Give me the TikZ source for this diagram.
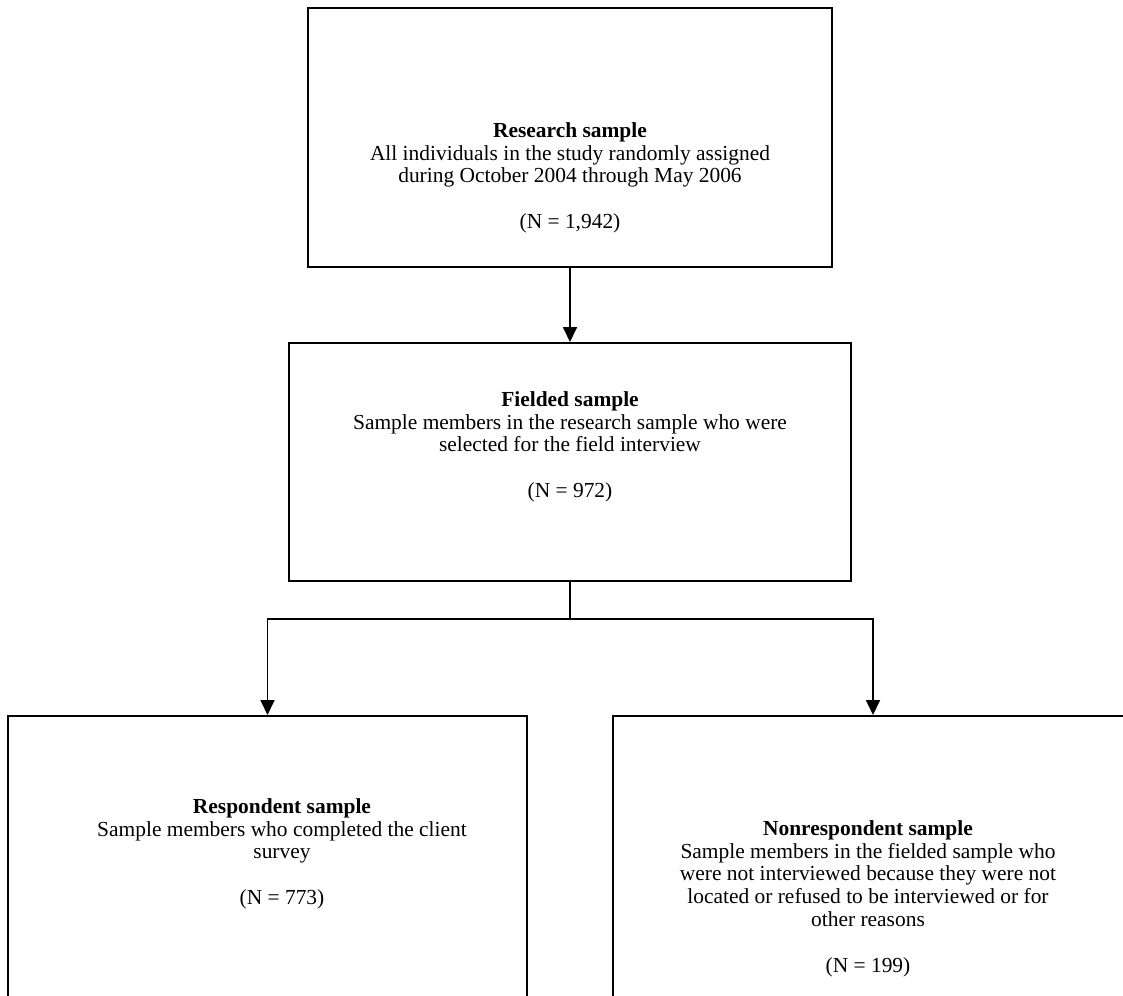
\documentclass[tikz,border=0pt]{standalone}
\usepackage{fontspec}
\setmainfont{Liberation Serif}
\usetikzlibrary{arrows.meta}
\newcommand\pxu{0.56pt}
\begin{document}
\begin{tikzpicture}[x=0.56pt,y=-0.56pt,
  box/.style={draw,line width=1.1pt,inner sep=0pt},
  txt/.style={align=center,font=\fontsize{12pt}{12.8pt}\selectfont,inner sep=0pt,anchor=north},
  arr/.style={line width=1.1pt,-{Triangle[width=7.8pt,length=8.4pt]}}]
\useasboundingbox (0,0) rectangle (1123,996);
\clip (0,0) rectangle (1123,996);
\node[box,minimum width={524*\pxu},minimum height={259*\pxu}] (rs) at (570,137.5) {};
\node[box,minimum width={562*\pxu},minimum height={238*\pxu}] (fs) at (570,462) {};
\node[box,minimum width={519*\pxu},minimum height={320*\pxu}] (rp) at (267.5,876) {};
\node[box,minimum width={520*\pxu},minimum height={320*\pxu}] (nr) at (873,876) {};
\coordinate (j) at (570,619);
\node[txt] (rst) at (570,122) {\textbf{Research sample}\\All individuals in the study randomly assigned\\during October 2004 through May 2006\\[12.8pt](N = 1,942)};
\node[txt] (fst) at (570,391) {\textbf{Fielded sample}\\Sample members in the research sample who were\\selected for the field interview\\[12.8pt](N = 972)};
\node[txt] (rpt) at (282,798) {\textbf{Respondent sample}\\Sample members who completed the client\\survey\\[12.8pt](N = 773)};
\node[txt] (nrt) at (868,820) {\textbf{Nonrespondent sample}\\Sample members in the fielded sample who\\were not interviewed because they were not\\located or refused to be interviewed or for\\other reasons\\[12.8pt](N = 199)};
\draw[arr] (rs.south) -- (fs.north);
\draw[line width=1.1pt] (fs.south) -- (j);
\draw[arr] (j) -| (rp.north);
\draw[arr] (j) -| (nr.north);
\end{tikzpicture}
\end{document}
